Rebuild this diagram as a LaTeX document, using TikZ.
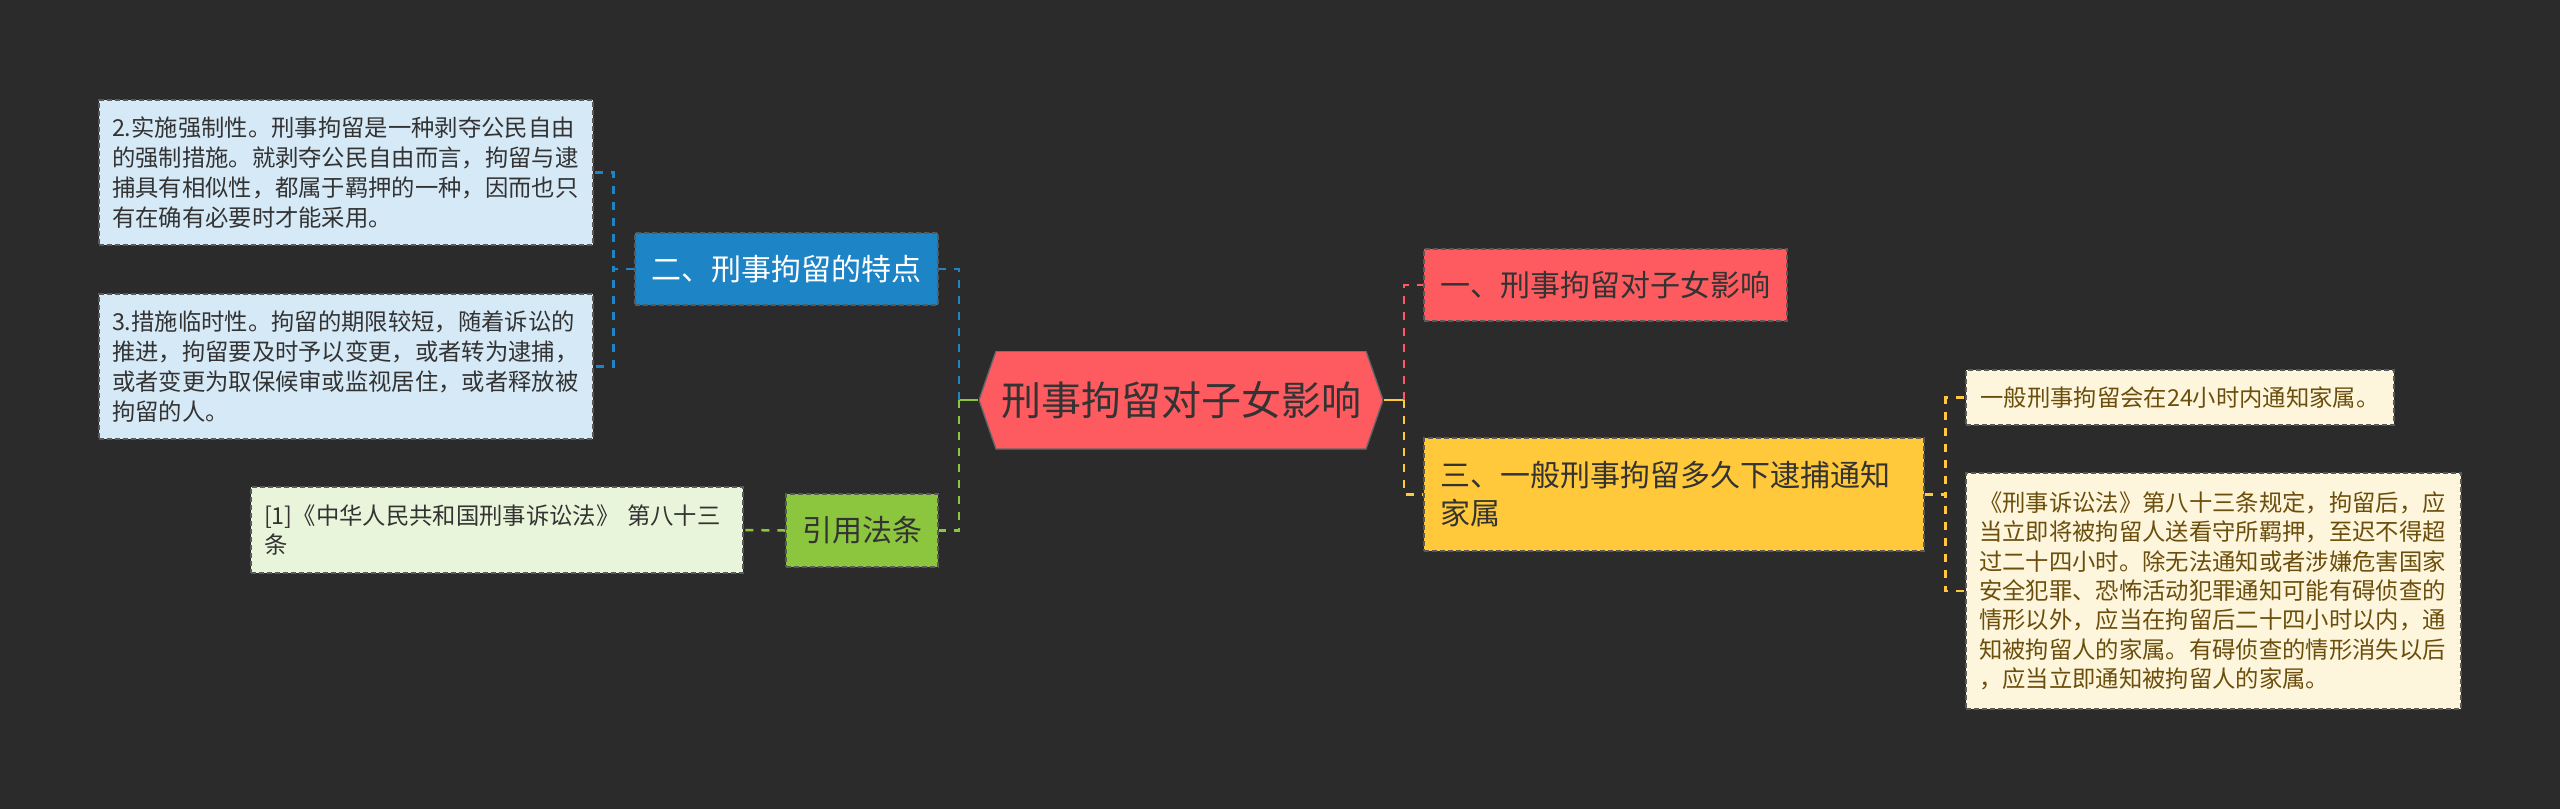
\documentclass[tikz,border=0pt]{standalone}
\usepackage{fontspec}
\setmainfont{Noto Sans CJK SC}

\definecolor{bgdark}{HTML}{2B2B2B}
\definecolor{rootred}{HTML}{FD5B5F}
\definecolor{topicblue}{HTML}{1D84C6}
\definecolor{leafblue}{HTML}{D6E9F7}
\definecolor{topicgreen}{HTML}{8CC63E}
\definecolor{leafgreen}{HTML}{E9F5DA}
\definecolor{topicyellow}{HTML}{FFC93B}
\definecolor{leafcream}{HTML}{FEF6DC}
\definecolor{textdark}{HTML}{333333}
\definecolor{textbrown}{HTML}{6B4E0C}

\newcommand\rootfont{\fontsize{12pt}{14pt}\selectfont}
\newcommand\topicfont{\fontsize{9pt}{11.4pt}\selectfont}
\newcommand\leaffont{\fontsize{7pt}{9pt}\selectfont}

\tikzset{
  box/.style={draw=black!65, line width=0.35pt, dash pattern=on 1.6pt off 0.8pt, inner ysep=0pt},
  topic/.style={box, font=\topicfont, text=textdark, minimum height=21.6pt, inner xsep=4.8pt},
  leaf/.style={box, font=\leaffont, text=textdark, align=left, inner xsep=3.9pt},
  link/.style={line width=0.75pt, dash pattern=on 2.4pt off 2.4pt},
  stub/.style={line width=0.75pt},
  root/.style={font=\rootfont, text=textdark, fill=bgdark, minimum width=121.2pt, minimum height=29.4pt,
    path picture={
      \fill[rootred, draw=black!60, line width=0.4pt] (path picture bounding box.west)
        -- ([xshift=5.1pt]path picture bounding box.north west)
        -- ([xshift=-5.1pt]path picture bounding box.north east)
        -- (path picture bounding box.east)
        -- ([xshift=-5.1pt]path picture bounding box.south east)
        -- ([xshift=5.1pt]path picture bounding box.south west) -- cycle;
    }},
}

\begin{document}
\begin{tikzpicture}[x=0.3pt, y=-0.3pt]
    % Background
    \fill[bgdark] (0,0) rectangle (2560,809);

    % Central node
    \node[root] (root) at (1181,400) {刑事拘留对子女影响};

    % Left branch
    \node[topic, fill=topicblue, text=white, minimum width=90.9pt] (sec2) at (786.5,269) {二、刑事拘留的特点};
    \node[leaf, fill=leafblue, text width=140.4pt, minimum height=43.5pt] (s2a) at (346,172.5)
        {2.实施强制性。刑事拘留是一种剥夺公民自由\\的强制措施。就剥夺公民自由而言，拘留与逮\\捕具有相似性，都属于羁押的一种，因而也只\\有在确有必要时才能采用。};
    \node[leaf, fill=leafblue, text width=140.4pt, minimum height=43.5pt] (s2b) at (346,366.5)
        {3.措施临时性。拘留的期限较短，随着诉讼的\\推进，拘留要及时予以变更，或者转为逮捕，\\或者变更为取保候审或监视居住，或者释放被\\拘留的人。};
    \node[topic, fill=topicgreen, minimum width=45.6pt, minimum height=21.9pt] (law) at (862,530.5) {引用法条};
    \node[leaf, fill=leafgreen, text width=139.8pt, minimum height=25.8pt] (cite) at (497,530)
        {[1]《中华人民共和国刑事诉讼法》 第八十三\\条};

    % Right branch
    \node[topic, fill=rootred, minimum width=108.9pt] (sec1) at (1605.5,285) {一、刑事拘留对子女影响};
    \node[topic, fill=topicyellow, align=left, text width=140.4pt, minimum height=33.9pt] (sec3) at (1674,494.5)
        {三、一般刑事拘留多久下逮捕通知\\家属};
    \node[leaf, fill=leafcream, text=textbrown, minimum width=128.4pt, minimum height=16.5pt] (n1) at (2180,397.5)
        {一般刑事拘留会在24小时内通知家属。};
    \node[leaf, fill=leafcream, text=textbrown, text width=140.7pt, minimum height=70.8pt,
          font=\fontsize{7pt}{8.8pt}\selectfont] (n2) at (2213.5,591)
        {《刑事诉讼法》第八十三条规定，拘留后，应\\当立即将被拘留人送看守所羁押，至迟不得超\\过二十四小时。除无法通知或者涉嫌危害国家\\安全犯罪、恐怖活动犯罪通知可能有碍侦查的\\情形以外，应当在拘留后二十四小时以内，通\\知被拘留人的家属。有碍侦查的情形消失以后\\，应当立即通知被拘留人的家属。};

    % Connectors from the centre
    \coordinate (lj) at (959,400);
    \coordinate (rj) at (1404,400);
    \draw[stub, topicgreen] (root.west) -- (lj);
    \draw[stub, topicyellow] (root.east) -- (rj);
    \draw[link, topicblue] (lj) |- (sec2.east);
    \draw[link, topicgreen] (lj) |- (law.east);
    \draw[link, rootred] (rj) |- (sec1.west);
    \draw[link, topicyellow] (rj) |- (sec3.west);

    % Connectors to the leaves
    \draw[link, topicblue] (sec2.west) -- ++(-21,0) |- (s2a.east);
    \draw[link, topicblue] (sec2.west) -- ++(-21,0) |- (s2b.east);
    \draw[link, topicgreen] (law.west) -- (cite.east);
    \draw[link, topicyellow] (sec3.east) -- ++(21,0) |- (n1.west);
    \draw[link, topicyellow] (sec3.east) -- ++(21,0) |- (n2.west);
\end{tikzpicture}
\end{document}
